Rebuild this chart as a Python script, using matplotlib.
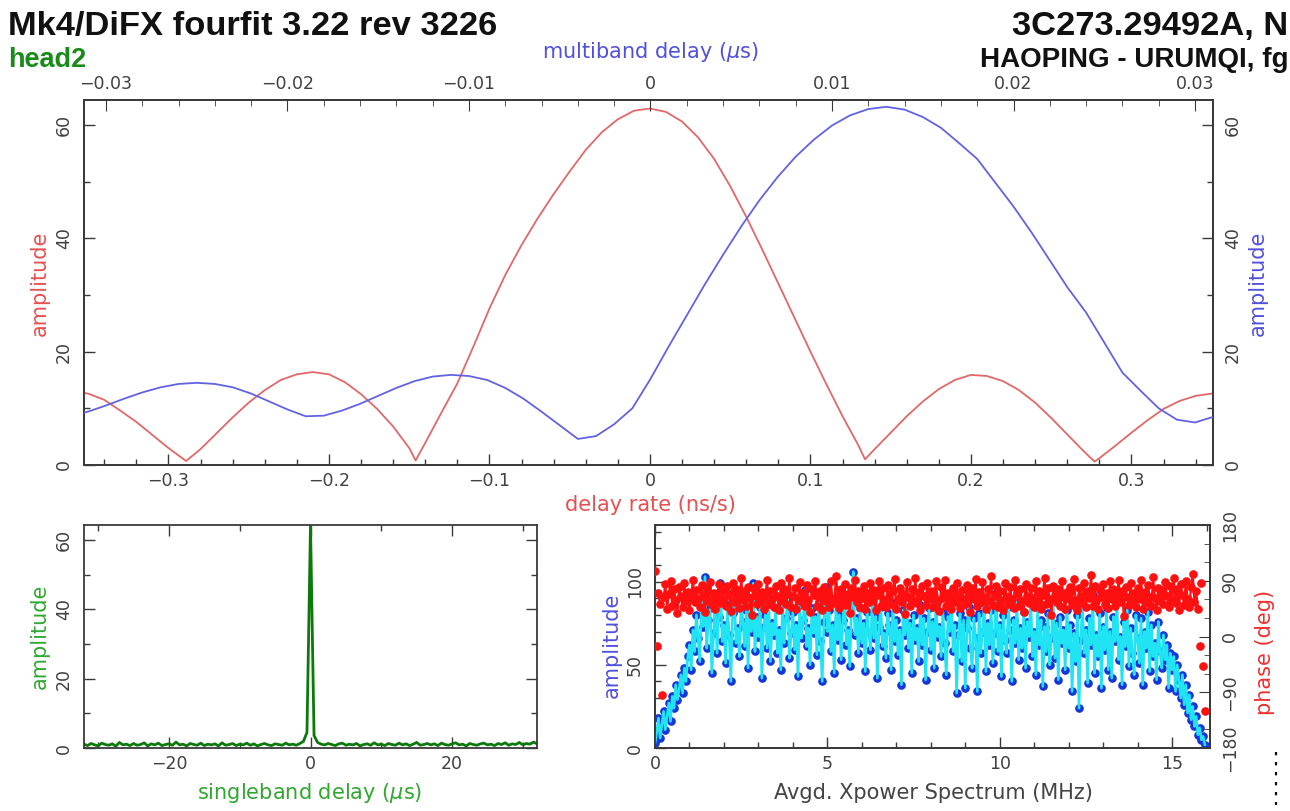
import numpy as np
import matplotlib
matplotlib.use('Agg')
import matplotlib.pyplot as plt
from matplotlib.ticker import MultipleLocator, FuncFormatter, FixedLocator
from matplotlib.lines import Line2D

# ---------------- data ----------------
# delay-rate spectrum (red), x = delay rate (ns/s)
rate = [-0.355, -0.35, -0.34, -0.33, -0.32, -0.31, -0.30, -0.289,
        -0.28, -0.27, -0.26, -0.25, -0.24, -0.23, -0.22, -0.21, -0.20, -0.19,
        -0.18, -0.17, -0.16, -0.15, -0.146,
        -0.14, -0.13, -0.12, -0.11, -0.10, -0.09, -0.08, -0.07, -0.06, -0.05,
        -0.04, -0.03, -0.02, -0.01, 0.0, 0.01, 0.02, 0.03, 0.04, 0.05, 0.06,
        0.07, 0.08, 0.09, 0.10, 0.11, 0.12, 0.13, 0.134,
        0.14, 0.15, 0.16, 0.17, 0.18, 0.19, 0.20, 0.21, 0.22, 0.23, 0.24,
        0.25, 0.26, 0.27, 0.277,
        0.28, 0.29, 0.30, 0.31, 0.32, 0.33, 0.34, 0.35, 0.355]
rate_amp = [12.8, 12.6, 11.5, 9.6, 7.6, 5.3, 3.0, 0.7,
            2.8, 5.6, 8.4, 11.0, 13.2, 15.0, 16.0, 16.4, 16.0, 14.6,
            12.5, 9.9, 6.8, 3.0, 0.8,
            3.9, 9.2, 14.4, 20.9, 27.6, 33.6, 38.8, 43.5, 47.8, 51.8,
            55.6, 58.7, 61.0, 62.5, 62.9, 62.3, 60.6, 57.8, 54.0, 49.2, 43.8,
            38.0, 32.0, 26.0, 20.0, 14.2, 8.6, 3.4, 1.0,
            2.8, 5.7, 8.6, 11.2, 13.4, 15.0, 15.9, 15.7, 14.8, 13.2, 11.0,
            8.3, 5.4, 2.5, 0.6,
            1.2, 3.4, 5.7, 7.9, 9.9, 11.3, 12.2, 12.6, 12.7]

# multiband delay spectrum (blue), x = multiband delay (us)
mbd = [-0.0315, -0.031, -0.030, -0.029, -0.028, -0.027, -0.026, -0.025,
       -0.024, -0.023, -0.022, -0.021, -0.020, -0.019, -0.018, -0.017,
       -0.016, -0.015, -0.014, -0.013, -0.012, -0.011, -0.010, -0.009,
       -0.008, -0.007, -0.006, -0.005, -0.004, -0.003, -0.002, -0.001,
       0.000, 0.001, 0.002, 0.003, 0.004, 0.005, 0.006, 0.007,
       0.008, 0.009, 0.010, 0.011, 0.012, 0.013, 0.014, 0.015,
       0.016, 0.017, 0.018, 0.019, 0.020, 0.021, 0.022, 0.023,
       0.024, 0.025, 0.026, 0.027, 0.028, 0.029, 0.030, 0.031, 0.0315]
mbd_amp = [9.0, 9.4, 10.5, 11.7, 12.8, 13.7, 14.3, 14.5,
           14.3, 13.7, 12.6, 11.2, 9.8, 8.6, 8.7, 9.6,
           10.8, 12.2, 13.6, 14.8, 15.6, 15.9, 15.7, 15.0,
           13.6, 11.7, 9.4, 7.0, 4.6, 5.1, 7.2, 10.0,
           15.2, 20.9, 26.4, 31.9, 37.1, 42.1, 46.7, 50.8,
           54.4, 57.4, 59.9, 61.7, 62.8, 63.2, 62.7, 61.4,
           59.5, 56.8, 54.0, 49.8, 45.6, 41.0, 36.1, 31.2,
           26.9, 21.6, 16.3, 13.1, 10.0, 8.0, 7.5, 8.5, 8.9]

# singleband delay (green), samples every 0.5 us from -32 to 32
sbd_amp = [1.1, 0.7, 1.3, 0.9, 0.6, 1.4, 1.0, 0.8, 1.2, 0.5,
           1.6, 0.9, 1.1, 0.7, 1.3, 0.8, 1.0, 1.5, 0.6, 1.2,
           0.9, 1.4, 0.7, 1.0, 1.2, 0.8, 1.7, 0.9, 1.1, 0.6,
           1.3, 1.0, 0.8, 1.4, 0.7, 1.1, 0.9, 1.2, 0.6, 1.5,
           0.8, 1.0, 1.3, 0.7, 1.1, 0.9, 1.4, 0.8, 1.2, 0.6,
           1.0, 1.3, 0.9, 0.7, 1.2, 1.0, 0.8, 1.4, 0.9, 1.1,
           0.8, 1.3, 1.9, 4.5, 64.5, 3.6, 1.6, 1.1, 0.9, 1.3,
           1.0, 0.7, 1.2, 1.4, 0.8, 1.1, 0.9, 1.3, 0.6, 1.0,
           1.2, 0.8, 1.5, 0.9, 1.1, 0.7, 1.3, 1.0, 0.8, 1.4,
           0.9, 1.2, 0.7, 1.1, 1.6, 0.8, 1.0, 1.3, 0.9, 1.2,
           0.7, 1.4, 1.0, 0.8, 1.2, 1.5, 0.9, 1.1, 0.6, 1.3,
           1.0, 0.8, 1.2, 1.4, 0.9, 1.1, 0.7, 1.3, 1.0, 1.5,
           0.8, 1.2, 1.0, 1.6, 0.9, 1.3, 1.1, 1.7, 1.2]
sbd_delay = -32.0 + 0.5 * np.arange(len(sbd_amp))

# averaged cross-power spectrum, one sample every 0.05 MHz (rows of 1 MHz)
xp_amp = [
    3, 9, 18, 6, 14, 22, 11, 19, 27, 16, 31, 24, 38, 29, 35, 44, 33, 48, 40, 55,
    62, 47, 71, 58, 80, 66, 52, 88, 73, 103, 60, 77, 84, 45, 69, 92, 57, 79, 99, 64,
    74, 51, 86, 68, 40, 81, 94, 63, 72, 55, 88, 76, 61, 83, 48, 90, 70, 99, 58, 79,
    67, 85, 42, 73, 80, 60, 89, 52, 75, 68, 84, 57, 71, 47, 87, 63, 78, 91, 54, 69,
    82, 59, 74, 43, 86, 66, 77, 95, 61, 72, 50, 84, 69, 79, 56, 88, 64, 40, 76, 97,
    70, 83, 58, 74, 45, 89, 65, 80, 53, 77, 92, 62, 71, 49, 86, 106, 68, 78, 57, 84,
    63, 75, 46, 82, 70, 59, 88, 66, 79, 42, 73, 85, 61, 69, 54, 81, 74, 47, 87, 64,
    77, 56, 71, 38, 83, 68, 91, 60, 75, 45, 80, 65, 72, 52, 86, 62, 78, 41, 70, 84,
    59, 76, 48, 89, 67, 73, 55, 82, 63, 44, 79, 70, 92, 58, 74, 33, 68, 81, 52, 77,
    36, 72, 85, 60, 48, 78, 66, 34, 81, 57, 70, 87, 46, 75, 62, 83, 51, 69, 93, 58,
    74, 43, 80, 65, 57, 85, 71, 40, 77, 63, 88, 53, 72, 60, 82, 48, 76, 67, 90, 55,
    70, 44, 84, 62, 77, 37, 73, 58, 81, 50, 66, 88, 54, 75, 41, 79, 63, 71, 47, 83,
    60, 74, 34, 69, 52, 80, 24, 65, 86, 57, 71, 39, 78, 62, 92, 45, 68, 55, 81, 36,
    73, 59, 84, 47, 70, 42, 79, 64, 88, 53, 67, 38, 76, 61, 83, 49, 72, 57, 44, 80,
    66, 51, 78, 38, 70, 60, 82, 46, 74, 55, 63, 41, 76, 58, 48, 68, 53, 62, 36, 57,
    47, 55, 34, 50, 41, 30, 44, 26, 38, 21, 32, 17, 25, 13, 19, 8, 12, 5, 7, 2]
xp_phase = [
    105, -16, 70, 52, -94, 63, 84, 44, 68, 90, 50, 77, 59, 38, 80, 66, 47, 86, 57, 72,
    43, 64, 92, 55, 75, 61, 48, 83, 67, 40, 79, 58, 88, 51, 71, 45, 62, 85, 54, 74,
    60, 49, 81, 69, 41, 87, 56, 76, 65, 46, 95, 59, 73, 50, 80, 62, 34, 78, 67, 53,
    85, 57, 72, 44, 64, 91, 52, 74, 60, 47, 81, 66, 42, 86, 58, 76, 53, 69, 94, 48,
    65, 79, 45, 61, 88, 55, 71, 49, 83, 59, 39, 77, 67, 90, 50, 63, 73, 43, 80, 57,
    72, 47, 89, 60, 54, 98, 66, 46, 77, 58, 84, 51, 69, 38, 79, 63, 92, 56, 74, 48,
    62, 81, 44, 71, 55, 87, 60, 75, 42, 67, 90, 50, 78, 59, 47, 83, 64, 53, 73, 93,
    45, 61, 79, 56, 69, 36, 88, 63, 49, 76, 58, 95, 54, 72, 43, 81, 65, 51, 86, 60,
    74, 48, 66, 89, 57, 41, 80, 62, 91, 50, 71, 59, 44, 78, 55, 87, 64, 46, 75, 61,
    52, 83, 68, 39, 79, 60, 93, 49, 72, 56, 88, 63, 45, 76, 58, 97, 51, 65, 81, 47,
    73, 59, 43, 87, 64, 53, 80, 61, 46, 91, 70, 50, 77, 57, 40, 84, 66, 54, 78, 62,
    48, 89, 58, 74, 44, 67, 95, 52, 79, 60, 35, 82, 65, 55, 76, 49, 90, 63, 45, 72,
    61, 80, 51, 93, 59, 42, 78, 66, 54, 86, 47, 73, 62, 99, 50, 81, 57, 44, 75, 64,
    84, 53, 71, 46, 89, 60, 77, 49, 65, 92, 55, 74, 33, 80, 63, 51, 87, 58, 70, 47,
    78, 61, 91, 45, 72, 56, 83, 64, 50, 96, 62, 43, 79, 57, 75, 52, 88, 66, 48, 81,
    59, 94, 54, 76, 42, 85, 67, 51, 90, 61, 47, 80, 101, 56, 73, 44, -15, 87, -48, -120]
xp_freq_amp = 0.05 * np.arange(len(xp_amp))
xp_freq_ph = 0.05 * np.arange(len(xp_phase))

# ---------------- figure ----------------
W, H = 1290, 811
fig = plt.figure(figsize=(W / 100, H / 100), dpi=100)
plt.rcParams['font.family'] = ['DejaVu Sans']
plt.rcParams['mathtext.fontset'] = 'dejavusans'


def rect(l, t, r, b):
    return [l / W, 1 - b / H, (r - l) / W, (b - t) / H]


def fy(y):
    return 1 - y / H


TICKC = '#404040'
SPINEC = '#3a3a3a'
TFS = 12.5
RED_C = '#e06868'
BLUE_C = '#6262e2'
RED_L = '#e65050'
BLUE_L = '#5050dd'
GREEN_L = '#30a830'

fmt = FuncFormatter(lambda v, p: ('%g' % round(v, 6)).replace('-', '\u2212'))


def style(ax, xmaj, xmin, ymaj, ymin):
    ax.xaxis.set_major_locator(MultipleLocator(xmaj))
    ax.xaxis.set_minor_locator(MultipleLocator(xmin))
    ax.yaxis.set_major_locator(MultipleLocator(ymaj))
    ax.yaxis.set_minor_locator(MultipleLocator(ymin))
    ax.xaxis.set_major_formatter(fmt)
    ax.yaxis.set_major_formatter(fmt)
    ax.tick_params(which='both', direction='in', colors=SPINEC,
                   labelcolor=TICKC, labelsize=TFS, width=1.0)
    ax.tick_params(which='major', length=8)
    ax.tick_params(which='minor', length=4)
    ax.tick_params(axis='x', pad=5)
    ax.tick_params(axis='y', pad=8)
    for s in ax.spines.values():
        s.set_color(SPINEC)
        s.set_linewidth(1.3)


def rotate_y(ax, left=True, right=False):
    for t in ax.yaxis.get_major_ticks():
        if left:
            t.label1.set_rotation(90)
            t.label1.set_va('center')
        if right:
            t.label2.set_rotation(90)
            t.label2.set_va('center')


# ----- top panel -----
ax1 = fig.add_axes(rect(84, 100, 1213, 465))
ax1.plot(rate, rate_amp, color=RED_C, lw=1.3, zorder=3)
ax1.set_xlim(-0.3526, 0.3508)
ax1.set_ylim(0, 64.4)
style(ax1, 0.1, 0.02, 20, 10)
ax1.tick_params(axis='x', which='both', top=False)
ax1.tick_params(axis='y', which='both', left=True, right=True,
                labelleft=True, labelright=True)

ax1t = ax1.twiny()
ax1t.plot(mbd, mbd_amp, color=BLUE_C, lw=1.3, zorder=3)
ax1t.set_xlim(-0.03121, 0.03099)
ax1t.xaxis.set_major_locator(MultipleLocator(0.01))
ax1t.xaxis.set_minor_locator(MultipleLocator(0.002))
ax1t.xaxis.set_major_formatter(fmt)
ax1t.tick_params(which='both', direction='in', colors=SPINEC,
                 labelcolor=TICKC, labelsize=TFS, top=True, bottom=False,
                 labeltop=True, labelbottom=False)
ax1t.tick_params(which='major', length=8, pad=5)
ax1t.tick_params(which='minor', length=4)
for s in ax1t.spines.values():
    s.set_color(SPINEC)
    s.set_linewidth(1.3)
rotate_y(ax1, left=True, right=True)

fig.text(650 / W, fy(52), r'multiband delay ($\mu$s)', color=BLUE_L,
         ha='center', va='center', fontsize=15)
fig.text(650 / W, fy(505), 'delay rate (ns/s)', color=RED_L,
         ha='center', va='center', fontsize=15)
fig.text(40 / W, fy(283), 'amplitude', color=RED_L, rotation=90,
         ha='center', va='center', fontsize=15)
fig.text(1258 / W, fy(283), 'amplitude', color=BLUE_L, rotation=90,
         ha='center', va='center', fontsize=15)

# ----- bottom-left: singleband delay -----
ax2 = fig.add_axes(rect(84, 525, 537, 748))
ax2.plot(sbd_delay, sbd_amp, color='#0b7a0b', lw=2.0)
ax2.set_xlim(-32, 32)
ax2.set_ylim(0, 64.3)
style(ax2, 20, 10, 20, 10)
ax2.tick_params(which='both', top=True, right=True)
rotate_y(ax2)
fig.text(40 / W, fy(636), 'amplitude', color=GREEN_L, rotation=90,
         ha='center', va='center', fontsize=15)
fig.text(310 / W, fy(793), r'singleband delay ($\mu$s)', color=GREEN_L,
         ha='center', va='center', fontsize=15)

# ----- bottom-right: cross-power spectrum -----
ax3 = fig.add_axes(rect(655, 525, 1210, 748))
ax3.plot(xp_freq_amp, xp_amp, ls='none', marker='o', ms=5.2,
         mfc='#1535d8', mec='#1535d8', zorder=2)
ax3.plot(xp_freq_amp, xp_amp, color='#20e4f4', lw=1.9, zorder=3)
ax3.set_xlim(0, 16.1)
ax3.set_ylim(0, 134)
style(ax3, 5, 1, 50, 10)
ax3.tick_params(which='both', top=True, right=False)
rotate_y(ax3)

ax3r = ax3.twinx()
ph = np.asarray(xp_phase, dtype=float)
ph_line = np.ma.masked_where(ph < 0, ph)
ax3r.plot(xp_freq_ph, ph_line, color='#ff1010', lw=1.6, zorder=4)
ax3r.plot(xp_freq_ph, ph, ls='none', marker='o', ms=5.2,
          mfc='#ff1010', mec='#ff1010', zorder=5)
ax3r.set_ylim(-180, 180)
ax3r.yaxis.set_major_locator(FixedLocator([-180, -90, 0, 90, 180]))
ax3r.yaxis.set_minor_locator(MultipleLocator(30))
ax3r.yaxis.set_major_formatter(fmt)
ax3r.tick_params(which='both', direction='in', colors=SPINEC,
                 labelcolor=TICKC, labelsize=TFS, pad=8)
ax3r.tick_params(which='major', length=8)
ax3r.tick_params(which='minor', length=4)
for s in ax3r.spines.values():
    s.set_color(SPINEC)
    s.set_linewidth(1.3)
rotate_y(ax3r, left=False, right=True)

fig.text(612 / W, fy(645), 'amplitude', color=BLUE_L, rotation=90,
         ha='center', va='center', fontsize=15)
fig.text(1265 / W, fy(652), 'phase (deg)', color='#f03030', rotation=90,
         ha='center', va='center', fontsize=15)
fig.text(933 / W, fy(793), 'Avgd. Xpower Spectrum (MHz)', color='#444444',
         ha='center', va='center', fontsize=15)

fig.add_artist(Line2D([1276 / W, 1276 / W], [fy(752), fy(805)],
                      ls=(0, (1.5, 3)), color='#111111', lw=1.6))

# ----- header text -----
fig.text(8 / W, fy(35), 'Mk4/DiFX fourfit 3.22 rev 3226', fontsize=24.8,
         fontweight='bold', family='Liberation Sans', color='#111111',
         va='baseline', ha='left')
fig.text(8 / W, fy(67), 'head2', fontsize=19.5, fontweight='bold',
         family='Liberation Sans', color='#1a8a1a', va='baseline', ha='left')
fig.text(1288 / W, fy(35), '3C273.29492A, N', fontsize=24.8,
         fontweight='bold', family='Liberation Sans', color='#111111',
         va='baseline', ha='right')
fig.text(1288 / W, fy(67), 'HAOPING - URUMQI, fg', fontsize=20,
         fontweight='bold', family='Liberation Sans', color='#111111',
         va='baseline', ha='right')

fig.savefig('out.png', dpi=100)
